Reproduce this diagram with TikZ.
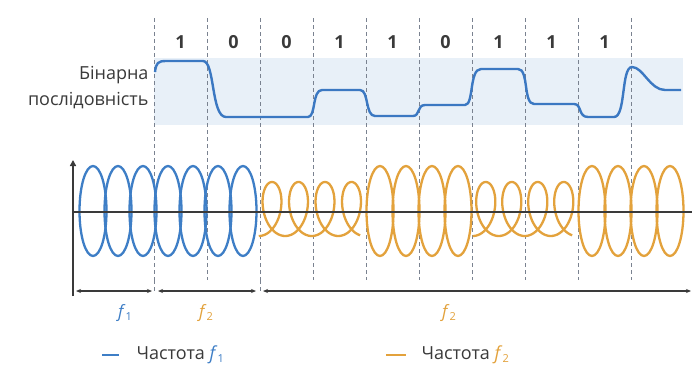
\documentclass[tikz,border=0pt]{standalone}
\usepackage{fontspec}
\setmainfont{Open Sans}
\usetikzlibrary{arrows.meta}
\definecolor{sigblue}{HTML}{3B78C2}
\definecolor{wblue}{HTML}{3E7EC6}
\definecolor{worange}{HTML}{E3A23C}
\definecolor{band}{HTML}{E8F0F8}
\definecolor{axiscol}{HTML}{3A3A3A}
\definecolor{dashcol}{HTML}{7A8290}
\definecolor{txt}{HTML}{3A3A3A}
\newcommand{\fsym}[1]{\textit{f}{\fontsize{11}{12}\selectfont\raisebox{-3pt}{#1}}}
\tikzset{
  dashline/.style={draw=dashcol, line width=0.9pt, dash pattern=on 4pt off 3pt},
  bluewave/.style={draw=wblue, line width=2.3pt},
  orangewave/.style={draw=worange, line width=2.3pt},
  sigline/.style={draw=sigblue, line width=2.4pt, line join=round},
  digit/.style={font=\fontsize{18}{20}\selectfont\bfseries, text=txt},
  lbl/.style={font=\fontsize{18}{21}\selectfont, text=txt},
  dimline/.style={draw=axiscol, line width=1.1pt, {Stealth[length=5pt,width=4pt]}-{Stealth[length=5pt,width=4pt]}},
}
\begin{document}
\begin{tikzpicture}[x=1pt,y=-1pt]
\useasboundingbox (0,0) rectangle (692,367);
\fill[white] (0,0) rectangle (692,367);
\fill[band] (154,58) rectangle (683,125);
% dashed bit boundaries
\foreach \i in {0,...,9} {
  \coordinate (t\i) at ({154+53*\i},18);
  \coordinate (b\i) at ({154+53*\i},280);
  \draw[dashline] (t\i) -- (b\i);
}
\draw[dashline] (b0) -- (154,292);
\draw[dashline] (b2) -- (260,292);
% digits
\foreach \d [count=\k from 0] in {1,0,0,1,1,0,1,1,1}
  \node[digit] (d\k) at ({180.5+53*\k},42) {\d};
% labels
\node[lbl, anchor=east] (lab1) at (152,75) {Бінарна};
\node[lbl, anchor=east] (lab2) at (152,101) {послідовність};
% binary signal
\draw[sigline] (155,72) .. controls (156,63) and (158,61) .. (166,61) -- (203,61)
  .. controls (215,61) and (211,117) .. (226,117) -- (308,117)
  .. controls (316,117) and (312,90) .. (322,90) -- (360,90)
  .. controls (369,90) and (365,116) .. (375,116) -- (413,116)
  .. controls (420,116) and (417,105) .. (425,105) -- (465,105)
  .. controls (474,105) and (469,69) .. (481,69) -- (518,69)
  .. controls (529,69) and (523,104) .. (534,104) -- (574,104)
  .. controls (582,104) and (578,117) .. (588,117) -- (614,117)
  .. controls (626,117) and (621,67) .. (632,67)
  .. controls (643,67) and (650,90) .. (665,90) -- (681,90);
% blue waves
\foreach \c in {93,118,...,243}
  \draw[bluewave] (\c,211) ellipse [x radius=13.5pt, y radius=45pt];
% orange waves
\foreach \c in {380,406,432,458,592,618,644,670}
  \draw[orangewave] (\c,211) ellipse [x radius=13.5pt, y radius=45pt];
\draw[orangewave] plot[domain=0:24.9, samples=300, smooth, variable=\t]
  ({258.75 + 26.5*\t/(2*pi) + 15.5*sin(\t r)}, {209 + 27*cos(\t r)});
\draw[orangewave] plot[domain=0:24.9, samples=300, smooth, variable=\t]
  ({472.75 + 26*\t/(2*pi) + 15.5*sin(\t r)}, {209 + 27*cos(\t r)});
% axes
\coordinate (ax0) at (73,296);
\coordinate (axtop) at (73,160);
\coordinate (h0) at (73,212);
\coordinate (h1) at (692,212);
\draw[draw=axiscol, line width=1.2pt] (h0) -- (h1);
\draw[draw=axiscol, line width=2.6pt, -{Triangle[length=6pt,width=6pt]}] (ax0) -- (axtop);
% dimension lines
\coordinate (m0) at (76,291);
\coordinate (m1) at (152,291);
\coordinate (m2) at (158,291);
\coordinate (m3) at (256,291);
\coordinate (m4) at (263,291);
\coordinate (m5) at (691,291);
\draw[dimline] (m0) -- (m1);
\draw[dimline] (m2) -- (m3);
\draw[dimline] (m4) -- (m5);
% frequency labels
\node[font=\fontsize{17}{20}\selectfont, text=wblue] (fa) at (125,313) {\fsym{1}};
\node[font=\fontsize{17}{20}\selectfont, text=worange] (fb) at (206,313) {\fsym{2}};
\node[font=\fontsize{17}{20}\selectfont, text=worange] (fc) at (449,313) {\fsym{2}};
% legend
\coordinate (la) at (102,355);
\coordinate (lb) at (119,355);
\draw[draw=wblue, line width=2pt] (la) -- (lb);
\node[lbl, anchor=west] (leg1) at (133,355) {Частота \textcolor{wblue}{\fsym{1}}};
\coordinate (lc) at (386,355);
\coordinate (ld) at (406,355);
\draw[draw=worange, line width=2pt] (lc) -- (ld);
\node[lbl, anchor=west] (leg2) at (418,355) {Частота \textcolor{worange}{\fsym{2}}};
\end{tikzpicture}
\end{document}
